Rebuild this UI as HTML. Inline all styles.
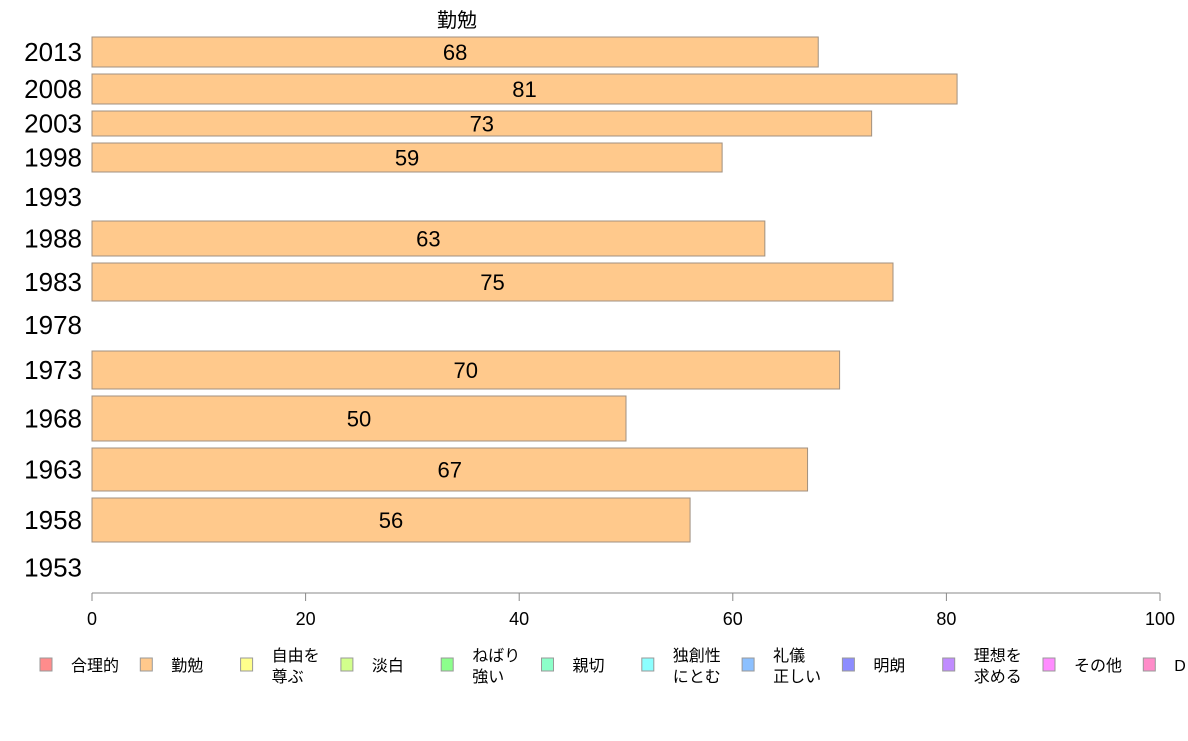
<!DOCTYPE html>
<html><head><meta charset="utf-8"><style>
body{margin:0;background:#fff;}
svg text{font-family:"Liberation Sans","Noto Sans CJK JP",sans-serif;}
</style></head><body>
<svg id="chart" width="1188" height="736" xmlns="http://www.w3.org/2000/svg">
<text x="457" y="27" font-size="20" text-anchor="middle" fill="#000">勤勉</text>
<g id="bars"></g>
<g id="axis"></g>
<g id="legend"></g>
</svg>
<script>
const years=["2013","2008","2003","1998","1993","1988","1983","1978","1973","1968","1963","1958","1953"];
const values=[68,81,73,59,null,63,75,null,70,50,67,56,null];
const ticks=[0,20,40,60,80,100];
const legendLabels=[["合理的"],["勤勉"],["自由を","尊ぶ"],["淡白"],["ねばり","強い"],["親切"],["独創性","にとむ"],["礼儀","正しい"],["明朗"],["理想を","求める"],["その他"],["D"]];
const legendColors=["#ff8c8c","#ffc98c","#ffff8c","#d2ff8c","#8cff8c","#8cffc9","#8cffff","#8cc0ff","#8c8cff","#c08cff","#ff8cff","#ff8cc9"];
// layout (row bands in px)
const rowTop=[37,74,111,143,180,221,263,310,351,396,448,498,550];
const rowBot=[67,104,136,172,214,256,301,340,389,441,491,542,585];
const ns="http://www.w3.org/2000/svg";
const X0=92,X1=1160,AXY=593;
const x=v=>X0+(X1-X0)*v/100;
function mk(tag,attrs,parent){const e=document.createElementNS(ns,tag);for(const k in attrs)e.setAttribute(k,attrs[k]);parent.appendChild(e);return e;}
const bars=document.getElementById('bars');
years.forEach((y,i)=>{
  const cy=(rowTop[i]+rowBot[i])/2;
  const t=mk('text',{x:82,y:cy+9,'font-size':26,'text-anchor':'end',fill:'#000'},bars);
  t.textContent=y;
  
  
  const v=values[i];
  if(v!=null){
    const r=mk('rect',{x:X0,y:rowTop[i],width:x(v)-X0,height:rowBot[i]-rowTop[i],fill:'#ffc98c',stroke:'#a09080','stroke-width':1},bars);
    
    
    const vt=mk('text',{x:(X0+x(v))/2,y:cy+8,'font-size':22,'text-anchor':'middle',fill:'#000'},bars);
    vt.textContent=v;
    
    
  }
});
const ax=document.getElementById('axis');
mk('line',{x1:X0,x2:X1,y1:AXY,y2:AXY,stroke:'#888','stroke-width':1},ax);
ticks.forEach(tv=>{
  mk('line',{x1:x(tv),x2:x(tv),y1:AXY,y2:AXY+8,stroke:'#888'},ax);
  const t=mk('text',{x:x(tv),y:625,'font-size':18,'text-anchor':'middle',fill:'#000'},ax);
  t.textContent=tv;
  
  
});
const lg=document.getElementById('legend');
legendLabels.forEach((lab,i)=>{
  const lx=40+i*100.3;
  const r=mk('rect',{x:lx,y:658,width:12,height:13,fill:legendColors[i],stroke:'#999'},lg);
  
  
  lab.forEach((line,j)=>{
    const ly=lab.length===1?671:661+j*21;
    const t=mk('text',{x:lx+31,y:ly,'font-size':16,fill:'#000'},lg);
    t.textContent=line;
    
    
  });
});
</script>
</body></html>
